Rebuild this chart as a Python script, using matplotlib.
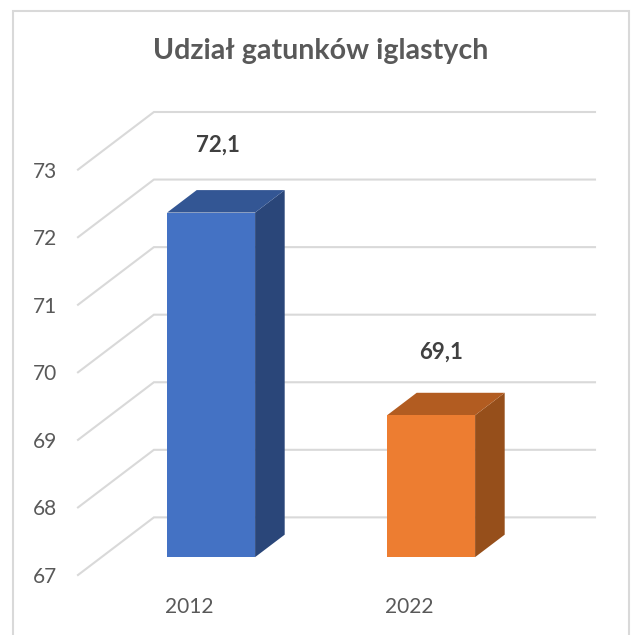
import matplotlib
matplotlib.use('Agg')
import matplotlib.pyplot as plt
from matplotlib.patches import Polygon, Rectangle

plt.rcParams['font.family'] = ['Lato', 'DejaVu Sans']

years = ['2012', '2022']
values = [72.1, 69.1]
value_labels = ['72,1', '69,1']
y_ticks = [67, 68, 69, 70, 71, 72, 73]

front_colors = ['#4472C4', '#ED7D31']
top_colors = ['#335694', '#B25C21']
side_colors = ['#2A4679', '#964F1B']
grid_color = '#D9D9D9'
text_color = '#595959'

W, H = 631, 635
y_base = 67
x_left, x_right = -0.505, 1.845
# glebokosc podlogi wykresu (przesuniecie przy depth=1)
depth_x = 0.345
depth_y = 0.853
bar_width = 0.4
bar_shift = -0.007
bar_near = 0.31
bar_far = 0.70
# polozenie etykiet wzgledem wierzcholka slupka
label_dx = [0.03, 0.045]
label_dy = [1.0, 0.93]


def project(x, value, depth):
    return x + depth_x * depth, value + depth_y * depth


fig = plt.figure(figsize=(W / 100, H / 100), dpi=100)
fig.patch.set_facecolor('white')

# ramka wykresu, dolna krawedz poza obrazkiem
fig.add_artist(Rectangle((12.5 / W, -0.05), (629 - 12.5) / W, 1.05 - 10.5 / H,
                         transform=fig.transFigure, fill=False,
                         edgecolor=grid_color, linewidth=1.5))

ax = fig.add_axes([78 / W, 1 - 575 / H, (595 - 78) / W, (575 - 112) / H])
ax.set_xlim(x_left, x_right)
ax.set_ylim(y_base, y_ticks[-1] + depth_y)
ax.patch.set_alpha(0)
for s in ax.spines.values():
    s.set_visible(False)

ax.set_yticks(y_ticks)
ax.set_yticklabels([str(v) for v in y_ticks])
ax.set_xticks(range(len(years)))
ax.set_xticklabels(years)
ax.tick_params(axis='both', length=0, labelcolor=text_color, labelsize=15)
ax.tick_params(axis='y', pad=15)
ax.tick_params(axis='x', pad=16)

# linie siatki: sciana boczna i tylna
for v in y_ticks:
    bx, by = project(x_left, v, 1)
    ax.plot([x_left, bx, x_right], [v, by, by], color=grid_color, linewidth=1.5,
            zorder=1, clip_on=False, solid_joinstyle='miter')

for i, val in enumerate(values):
    x0 = i + bar_shift - bar_width / 2
    x1 = i + bar_shift + bar_width / 2
    front = [project(x0, y_base, bar_near), project(x1, y_base, bar_near),
             project(x1, val, bar_near), project(x0, val, bar_near)]
    top = [project(x0, val, bar_near), project(x1, val, bar_near),
           project(x1, val, bar_far), project(x0, val, bar_far)]
    side = [project(x1, y_base, bar_near), project(x1, y_base, bar_far),
            project(x1, val, bar_far), project(x1, val, bar_near)]
    ax.add_patch(Polygon(side, closed=True, facecolor=side_colors[i], edgecolor='none', zorder=3))
    ax.add_patch(Polygon(top, closed=True, facecolor=top_colors[i], edgecolor='none', zorder=3))
    ax.add_patch(Polygon(front, closed=True, facecolor=front_colors[i], edgecolor='none', zorder=4))
    lx, ly = project(i + bar_shift + label_dx[i], val + label_dy[i], bar_near)
    ax.text(lx, ly, value_labels[i], ha='center', va='center', fontsize=16,
            fontweight='bold', color='#404040', zorder=5)

fig.text(321 / W, 1 - 51 / H, 'Udział gatunków iglastych', ha='center', va='center',
         fontsize=20.6, fontweight='bold', color=text_color)

fig.savefig('out.png', dpi=100)
